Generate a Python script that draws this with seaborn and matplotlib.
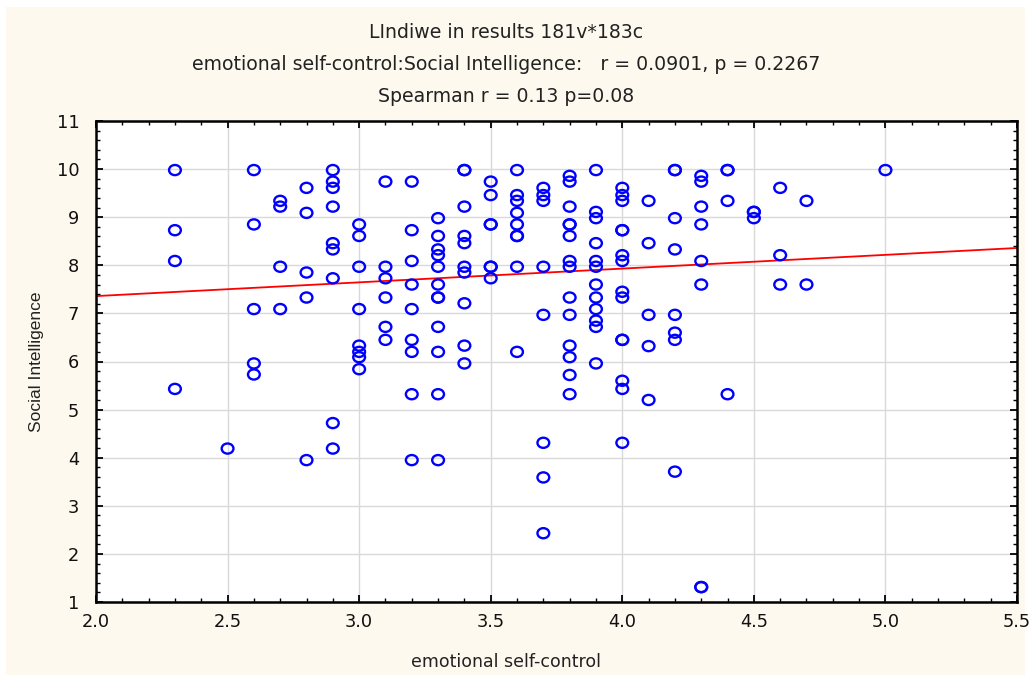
import numpy as np
import pandas as pd
import matplotlib
matplotlib.use("Agg")
import matplotlib.pyplot as plt
from matplotlib.patches import Rectangle
from matplotlib.path import Path
from matplotlib.transforms import Affine2D
from matplotlib.ticker import MultipleLocator, FormatStrFormatter
import seaborn as sns

# ---- data ----
col_23 = [9.98, 8.73, 8.09, 5.43]
col_25 = [4.19]
col_26 = [9.98, 8.85, 7.09, 5.96, 5.73]
col_27 = [9.34, 9.22, 7.97, 7.09]
col_28 = [9.61, 9.09, 7.85, 7.33, 3.95]
col_29 = [9.98, 9.74, 9.61, 9.22, 8.46, 8.33, 7.73, 4.72, 4.19]
col_30 = [8.85, 8.61, 7.97, 7.09, 6.33, 6.20, 6.09, 5.84]
col_31 = [9.74, 7.97, 7.73, 7.33, 6.72, 6.45]
col_32 = [9.74, 8.73, 8.09, 7.60, 7.09, 6.45, 6.20, 5.32, 3.95]
col_33 = [8.98, 8.61, 8.33, 8.21, 7.97, 7.60, 7.33, 7.33, 6.72, 6.20, 5.32, 3.95]
col_34 = [9.98, 9.98, 9.22, 8.61, 8.46, 7.97, 7.85, 7.21, 6.33, 5.96]
col_35 = [9.74, 9.46, 8.85, 8.85, 7.97, 7.97, 7.73]
col_36 = [9.98, 9.46, 9.34, 9.09, 8.85, 8.61, 8.61, 7.97, 6.20]
col_37 = [9.61, 9.46, 9.34, 7.97, 6.97, 4.31, 3.59, 2.43]
col_38 = [9.86, 9.74, 9.22, 8.85, 8.85, 8.61, 8.09, 7.97, 7.33, 6.97, 6.33, 6.09, 5.72, 5.32]
col_39 = [9.98, 9.11, 8.98, 8.46, 8.09, 7.97, 7.60, 7.33, 7.09, 6.85, 6.72, 5.96]
col_40 = [9.61, 9.46, 9.34, 8.73, 8.73, 8.21, 8.09, 7.45, 7.33, 6.45, 6.45, 5.60, 5.43, 4.31]
col_41 = [9.34, 8.46, 6.97, 6.32, 5.20]
col_42 = [9.98, 9.98, 8.98, 8.33, 6.97, 6.60, 6.45, 3.71]
col_43 = [9.86, 9.74, 9.22, 8.85, 8.09, 7.60, 1.31, 1.31]
col_44 = [9.98, 9.98, 9.34, 5.32]
col_45 = [9.11, 8.98, 9.11]
col_46 = [9.61, 8.21, 7.60]
col_47 = [9.34, 7.60]
col_50 = [9.98]

columns = {
    2.3: col_23, 2.5: col_25, 2.6: col_26, 2.7: col_27, 2.8: col_28, 2.9: col_29,
    3.0: col_30, 3.1: col_31, 3.2: col_32, 3.3: col_33, 3.4: col_34, 3.5: col_35,
    3.6: col_36, 3.7: col_37, 3.8: col_38, 3.9: col_39, 4.0: col_40, 4.1: col_41,
    4.2: col_42, 4.3: col_43, 4.4: col_44, 4.5: col_45, 4.6: col_46, 4.7: col_47,
    5.0: col_50,
}

# fitted line (value at x=2.0 and x=5.5)
fit_x = [2.0, 5.5]
fit_y = [7.36, 8.36]

title_lines = [
    "LIndiwe in results 181v*183c",
    "emotional self-control:Social Intelligence:   r = 0.0901, p = 0.2267",
    "Spearman r = 0.13 p=0.08",
]
x_label = "emotional self-control"
y_label = "Social Intelligence"

rows = [(x, y) for x, ys in columns.items() for y in ys]
df = pd.DataFrame(rows, columns=[x_label, y_label])

sns.set_theme(style="white")
plt.rcParams["font.family"] = ["DejaVu Sans"]

W, H = 1031, 682
fig = plt.figure(figsize=(W / 100, H / 100), dpi=100)
fig.patch.set_facecolor("white")
fig.patches.append(Rectangle((6 / W, 1 - 675 / H), (1025 - 6) / W, (675 - 7) / H,
                             transform=fig.transFigure, facecolor="#FDF9EE",
                             edgecolor="none", zorder=-10))

ax = fig.add_axes([96 / W, 1 - 602 / H, (1017 - 96) / W, (602 - 121) / H])
ax.set_facecolor("white")

ax.grid(True, color="#D9D9D9", linewidth=1.0, zorder=0)
ax.set_axisbelow(True)

# slightly wide ellipse marker, as in the reference
ell = Path.unit_circle().transformed(Affine2D().scale(1.0, 0.86))

sns.lineplot(x=fit_x, y=fit_y, ax=ax, color="#FF0000", linewidth=1.3, zorder=2)
sns.scatterplot(data=df, x=x_label, y=y_label, ax=ax, marker=ell, s=72,
                facecolors="none", edgecolor="#0000FF", linewidth=1.7, zorder=3)

ax.set_xlim(2.0, 5.5)
ax.set_ylim(1, 11)
ax.xaxis.set_major_locator(MultipleLocator(0.5))
ax.xaxis.set_minor_locator(MultipleLocator(0.1))
ax.yaxis.set_major_locator(MultipleLocator(1))
ax.yaxis.set_minor_locator(MultipleLocator(0.2))
ax.xaxis.set_major_formatter(FormatStrFormatter("%.1f"))

ax.tick_params(which="both", direction="in", top=True, right=True,
               bottom=True, left=True, colors="black", labelsize=12.8)
ax.tick_params(which="major", length=5, width=1.3)
ax.tick_params(which="minor", length=3, width=1.0)
ax.tick_params(axis="x", which="major", pad=8)
ax.tick_params(axis="y", which="major", pad=12)
for lab in ax.get_xticklabels() + ax.get_yticklabels():
    lab.set_color("#111111")
for s in ax.spines.values():
    s.set_color("black")
    s.set_linewidth(1.8)

ax.set_xlabel("")
ax.set_ylabel(y_label, fontsize=12.5, color="#222222", family="Liberation Sans")
ax.yaxis.set_label_coords(-52 / (1017 - 96), 0.5)

cx = 506 / W
fig.text(cx, 1 - 662 / H, x_label, ha="center", va="center", fontsize=12.5,
         color="#222222")
for i, t in enumerate(title_lines):
    fig.text(cx, 1 - (32 + i * 32) / H, t, ha="center",
             va="center", fontsize=13.6, color="#222222")

fig.savefig("out.png", dpi=100, facecolor=fig.get_facecolor())
